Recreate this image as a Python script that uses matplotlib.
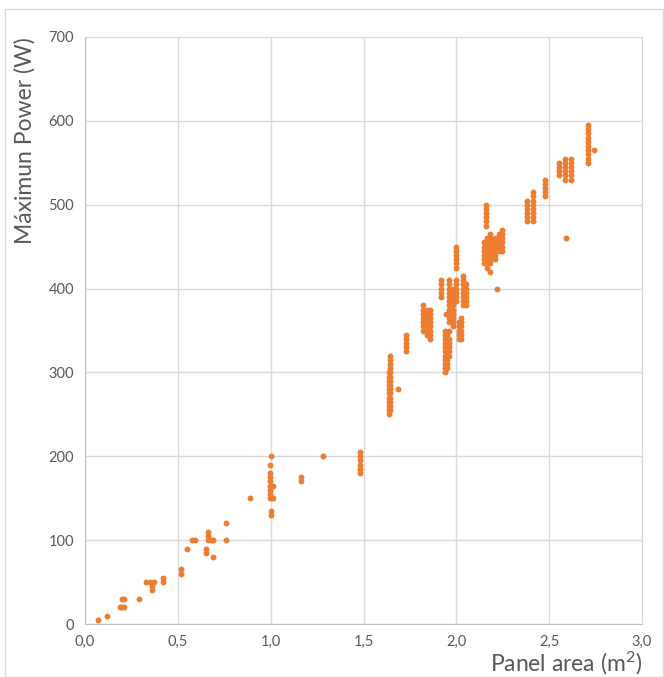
import matplotlib.pyplot as plt
from matplotlib.patches import Rectangle

plt.rcParams['font.family'] = ['Lato', 'DejaVu Sans']
plt.rcParams['mathtext.default'] = 'regular'

panel_area = [
    0.07, 0.12, 0.19, 0.20, 0.21, 0.20, 0.21, 0.29, 0.33, 0.35, 0.37, 0.36, 0.36,
    0.42, 0.42, 0.515, 0.515, 0.55, 0.575, 0.59, 0.65, 0.65, 0.66, 0.66, 0.665,
    0.68, 0.69, 0.69, 0.76, 0.76,
    0.89, 1.0, 0.995, 0.995, 0.995, 0.995, 0.995, 0.995, 0.995, 0.995, 1.01,
    1.005, 1.01, 1.0, 1.0, 1.165, 1.165, 1.28,
    1.48, 1.48, 1.48, 1.48, 1.48, 1.48,
    1.635, 1.635, 1.635, 1.635, 1.635, 1.635, 1.635, 1.635, 1.635, 1.635, 1.635,
    1.645, 1.645, 1.645, 1.645, 1.645, 1.645, 1.645, 1.645, 1.645, 1.645, 1.645,
    1.645, 1.645, 1.645, 1.685,
    1.73, 1.73, 1.73, 1.73, 1.73,
    1.82, 1.82, 1.82, 1.82, 1.82, 1.82, 1.82,
    1.84, 1.84, 1.84, 1.84, 1.84, 1.84, 1.84,
    1.86, 1.86, 1.86, 1.86, 1.86, 1.86, 1.86, 1.86,
    1.94, 1.94, 1.94, 1.94, 1.94, 1.94, 1.94, 1.94, 1.94, 1.94, 1.94,
    1.95, 1.95, 1.95, 1.95, 1.95, 1.95, 1.95, 1.95, 1.95,
    1.96, 1.96, 1.96, 1.96, 1.96, 1.96, 1.945,
    1.92, 1.92, 1.92, 1.92, 1.92,
    1.96, 1.96, 1.96, 1.96, 1.96, 1.96, 1.96, 1.96, 1.96, 1.96, 1.96,
    1.98, 1.98, 1.98, 1.98, 1.98, 1.98, 1.98, 1.98, 1.98, 1.98,
    2.0, 2.0, 2.0, 2.0, 2.0, 2.0,
    2.0, 2.0, 2.0, 2.0, 2.0, 2.0,
    2.015, 2.015, 2.015, 2.015, 2.015,
    2.025, 2.025, 2.025, 2.025, 2.025, 2.025,
    2.035, 2.035, 2.035, 2.035, 2.035, 2.035, 2.035, 2.035,
    2.05, 2.05, 2.05, 2.05, 2.05, 2.05,
    2.22,
    2.16, 2.16, 2.16, 2.16, 2.16, 2.16,
    2.15, 2.15, 2.15, 2.15, 2.15, 2.15,
    2.165, 2.165, 2.165, 2.165, 2.165, 2.165, 2.165, 2.165,
    2.18, 2.18, 2.18, 2.18, 2.18, 2.18, 2.18, 2.18,
    2.195, 2.195, 2.195, 2.195,
    2.21, 2.21, 2.21, 2.21, 2.21, 2.21,
    2.23, 2.23, 2.23, 2.23, 2.23,
    2.245, 2.245, 2.245, 2.245, 2.245, 2.245,
    2.18,
    2.38, 2.38, 2.38, 2.38, 2.38, 2.38,
    2.415, 2.415, 2.415, 2.415, 2.415, 2.415, 2.415, 2.415,
    2.48, 2.48, 2.48, 2.48, 2.48,
    2.555, 2.555, 2.555, 2.555,
    2.585, 2.585, 2.585, 2.585, 2.585, 2.585,
    2.62, 2.62, 2.62, 2.62, 2.62, 2.62,
    2.59,
    2.71, 2.71, 2.71, 2.71, 2.71, 2.71, 2.71, 2.71, 2.71, 2.71,
    2.74,
]

max_power = [
    5, 10, 20, 20, 20, 30, 30, 30, 50, 50, 50, 45, 40,
    55, 50, 65, 60, 90, 100, 100, 90, 85, 110, 105, 100,
    100, 100, 80, 120, 100,
    150, 200, 190, 180, 175, 170, 165, 160, 155, 150, 165,
    150, 150, 135, 130, 175, 170, 200,
    180, 185, 190, 195, 200, 205,
    250, 255, 260, 265, 270, 275, 280, 285, 290, 295, 300,
    255, 260, 265, 270, 275, 280, 285, 290, 295, 300, 305,
    310, 315, 320, 280,
    325, 330, 335, 340, 345,
    350, 355, 360, 365, 370, 375, 380,
    345, 350, 355, 360, 365, 370, 375,
    340, 345, 350, 355, 360, 365, 370, 375,
    300, 305, 310, 315, 320, 325, 330, 335, 340, 345, 350,
    305, 310, 315, 320, 325, 330, 335, 340, 345,
    320, 325, 330, 335, 340, 350, 370,
    390, 395, 400, 405, 410,
    360, 365, 370, 375, 380, 385, 390, 395, 400, 405, 410,
    355, 360, 365, 370, 375, 380, 385, 390, 395, 400,
    385, 390, 395, 400, 405, 410,
    425, 430, 435, 440, 445, 450,
    340, 345, 350, 355, 360,
    340, 345, 350, 355, 360, 365,
    380, 385, 390, 395, 400, 405, 410, 415,
    380, 385, 390, 395, 400, 405,
    400,
    475, 480, 485, 490, 495, 500,
    430, 435, 440, 445, 450, 455,
    425, 430, 435, 440, 445, 450, 455, 460,
    430, 435, 440, 445, 450, 455, 460, 465,
    440, 445, 450, 455,
    435, 440, 445, 450, 455, 460,
    445, 450, 455, 460, 465,
    445, 450, 455, 460, 465, 470,
    420,
    480, 485, 490, 495, 500, 505,
    480, 485, 490, 495, 500, 505, 510, 515,
    510, 515, 520, 525, 530,
    535, 540, 545, 550,
    530, 535, 540, 545, 550, 555,
    530, 535, 540, 545, 550, 555,
    460,
    550, 555, 560, 565, 570, 575, 580, 585, 590, 595,
    565,
]

x_ticks = [0.0, 0.5, 1.0, 1.5, 2.0, 2.5, 3.0]
y_ticks = [0, 100, 200, 300, 400, 500, 600, 700]

grey = '#595959'
grid = '#D9D9D9'

fig = plt.figure(figsize=(6.64, 6.77), dpi=100)
fig.patches.append(Rectangle((5 / 664, 0.0), 0.999 - 5 / 664, 1 - 9 / 677,
                             transform=fig.transFigure, fill=False,
                             edgecolor=grid, linewidth=1))
ax = fig.add_axes([85 / 664, 1 - 624 / 677, (642 - 85) / 664, (624 - 37) / 677])

ax.scatter(panel_area, max_power, s=18, color='#ED7D31', linewidths=0, zorder=3)

ax.set_xlim(0, 3.0)
ax.set_ylim(0, 700)
ax.set_xticks(x_ticks)
ax.set_xticklabels([f'{t:.1f}'.replace('.', ',') for t in x_ticks])
ax.set_yticks(y_ticks)
ax.grid(True, color=grid, linewidth=1, zorder=0)
ax.tick_params(length=0, labelsize=10.5, colors=grey, pad=8)
for side in ['top', 'right']:
    ax.spines[side].set_color(grid)
for side in ['left', 'bottom']:
    ax.spines[side].set_color('#BFBFBF')

ax.set_ylabel('Máximun Power (W)', fontsize=16.5, color=grey)
ax.yaxis.set_label_coords(-0.088, 1.0)
ax.yaxis.label.set_horizontalalignment('right')
ax.set_xlabel('Panel area (m$^2$)', fontsize=16.5, color=grey)
ax.xaxis.set_label_coords(1.0, -0.044)
ax.xaxis.label.set_horizontalalignment('right')

fig.savefig('out.png', dpi=100)
